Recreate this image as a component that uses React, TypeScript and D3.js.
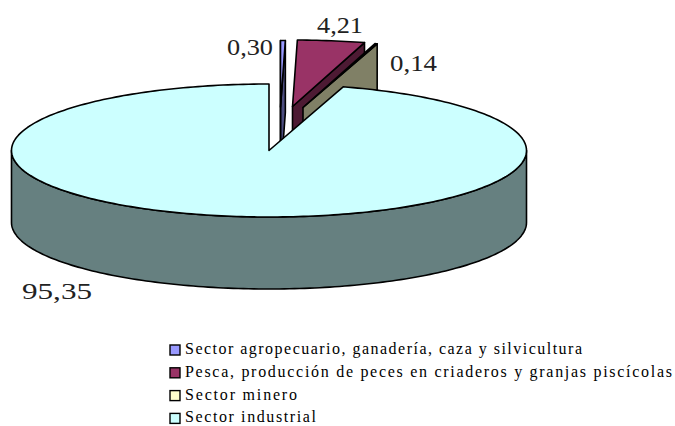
import React from "react";
import * as d3 from "d3";

const categories = [
  "Sector agropecuario, ganadería, caza y silvicultura",
  "Pesca, producción de peces en criaderos y granjas piscícolas",
  "Sector minero",
  "Sector industrial",
];
const values = [0.3, 4.21, 0.14, 95.35];
const valueLabels = ["0,30", "4,21", "0,14", "95,35"];

const topColors = ["#9999FF", "#993366", "#FFFFCC", "#CCFFFF"];
const sideColors = ["#4D4D80", "#4D1A33", "#808066", "#668080"];
const apexes: [number, number][] = [[280.5, 107], [292.5, 106.5], [303, 107.5], [269, 150.5]];
const labelBoxes = [
  { x: 227, y: 55, w: 46 },
  { x: 317, y: 33, w: 46 },
  { x: 390, y: 71, w: 47 },
  { x: 22, y: 299, w: 70 },
];
const legendWidths = [397, 487, 112, 131];

const RX = 257.5;
const RY = 66.5;
const DEPTH = 72;

const arcs = d3.pie<number>().sort(null).value((d) => d)(values);

function rim(a0: number, a1: number, cx: number, cy: number, dy = 0): [number, number][] {
  const n = Math.max(2, Math.ceil(Math.abs(a1 - a0) / 0.02));
  const sc = d3.scaleLinear().domain([0, n]).range([a0, a1]);
  return d3.range(n + 1).map((i) => {
    const a = sc(i);
    return [cx + RX * Math.sin(a), cy - RY * Math.cos(a) + dy] as [number, number];
  });
}
const line = d3.line();

export default function App() {
  return (
    <svg
      width={675}
      height={426}
      style={{ position: "absolute", left: 0, top: 0, background: "#fff" }}
      fontFamily="'Liberation Serif', serif"
    >
      {arcs.map((arc, i) => {
        const [cx, cy] = apexes[i];
        const s = arc.startAngle;
        const e = arc.endAngle;
        const top = line([[cx, cy], ...rim(s, e, cx, cy)]) + "Z";
        const cut = (a: number) => {
          const p = rim(a, a, cx, cy)[0];
          return line([[cx, cy], p, [p[0], p[1] + DEPTH], [cx, cy + DEPTH]]) + "Z";
        };
        const fs = Math.max(s, Math.PI / 2);
        const fe = Math.min(e, (3 * Math.PI) / 2);
        const outer =
          fs < fe
            ? line([...rim(fs, fe, cx, cy), ...rim(fe, fs, cx, cy, DEPTH)]) + "Z"
            : null;
        return (
          <g key={categories[i]} stroke="#000" strokeWidth={1.6} strokeLinejoin="round">
            {i < 3 && <path d={cut(e)} fill={sideColors[i]} />}
            {i === 0 && <path d={cut(s)} fill={sideColors[i]} />}
            {outer && <path d={outer} fill={sideColors[i]} />}
            <path d={top} fill={topColors[i]} />
          </g>
        );
      })}
      {valueLabels.map((t, i) => (
        <text
          key={t}
          x={labelBoxes[i].x}
          y={labelBoxes[i].y}
          fontSize={23}
          fill="#222"
          textLength={labelBoxes[i].w}
          lengthAdjust="spacingAndGlyphs"
        >
          {t}
        </text>
      ))}
      {categories.map((c, i) => {
        const y = 350 + i * 22.8;
        return (
          <g key={c}>
            <rect x={170} y={y - 5} width={10} height={10} fill={topColors[i]} stroke="#000" strokeWidth={1.4} />
            <text x={185} y={y + 4} fontSize={16} fill="#000" textLength={legendWidths[i]} lengthAdjust="spacing">
              {c}
            </text>
          </g>
        );
      })}
    </svg>
  );
}
